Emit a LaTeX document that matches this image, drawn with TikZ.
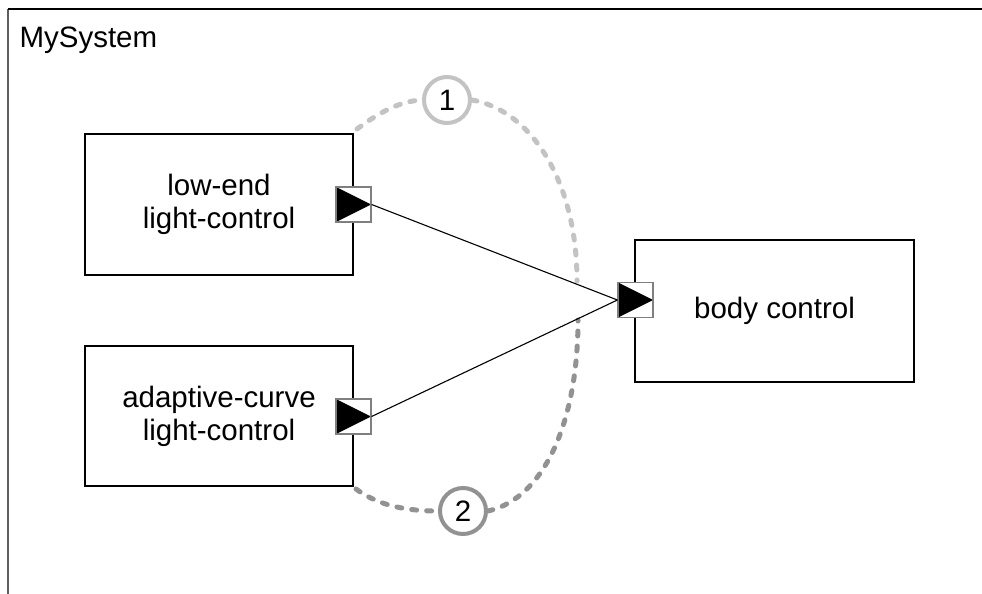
\documentclass[tikz,border=0pt]{standalone}
\usepackage{fontspec}
\setmainfont{Liberation Sans}

\definecolor{linklight}{HTML}{C3C3C3}
\definecolor{linkdark}{HTML}{929292}
\definecolor{portedge}{HTML}{7F7F7F}
\definecolor{frameside}{HTML}{5F5F5F}

\begin{document}
\begin{tikzpicture}[x=1pt, y=-1pt,
    txt/.style={font=\fontsize{29.5}{33}\selectfont},
    block/.style={draw, line width=1.5pt, minimum width=268pt, minimum height=141pt,
        inner sep=0pt, align=center, txt},
    port/.style={draw=portedge, line width=1.2pt, fill=white, minimum size=35pt, inner sep=0pt,
        path picture={\fill[black] (path picture bounding box.north west)
            -- (path picture bounding box.east)
            -- (path picture bounding box.south west) -- cycle;}},
    badge/.style={circle, draw=#1, line width=4pt, fill=white, minimum size=46pt,
        inner sep=0pt, txt},
    link/.style={draw=#1, line width=5pt, line cap=round, dash pattern=on 5pt off 10pt}]

    \useasboundingbox (0,0) rectangle (982,594);

    % 1. system frame
    \draw[line width=1.8pt, frameside] (8,594) -- (8,9);
    \draw[line width=1.5pt] (8,9) -- (982,9);
    \node[txt, anchor=base west] (sysname) at (16,48) {MySystem};

    % 2. components
    \node[block] (lowend) at (219,204.5) {low-end\\light-control};
    \node[block, minimum height=140pt] (adaptive) at (219,416) {adaptive-curve\\light-control};
    \node[block, minimum width=279pt, minimum height=142pt] (body) at (774.5,311) {body control};

    % 3. alternatives 1 and 2 (dashed)
    \node[badge=linklight] (one) at (447,100) {1};
    \node[badge=linkdark] (two) at (463,511) {2};
    \coordinate (onefrom) at (357,129);
    \coordinate (oneto) at (577,281);
    \coordinate (twofrom) at (356,489);
    \coordinate (twoto) at (578,320);

    \draw[link=linklight] (onefrom) .. controls (380,112) and (400,101) .. (one.west);
    \draw[link=linklight] (one.east) .. controls (530,110) and (577,180) .. (oneto);
    \draw[link=linkdark] (twofrom) .. controls (375,503) and (400,511) .. (two.west);
    \draw[link=linkdark] (two.east) .. controls (545,498) and (578,420) .. (twoto);

    % 4. ports and connectors
    \node[port] (lowport) at (353.5,204.5) {};
    \node[port] (adaptport) at (353.5,416.5) {};
    \node[port] (bodyport) at (635.5,300) {};

    \draw[line width=1.1pt] (lowport.east) -- (bodyport.west);
    \draw[line width=1.1pt] (adaptport.east) -- (bodyport.west);
\end{tikzpicture}
\end{document}
